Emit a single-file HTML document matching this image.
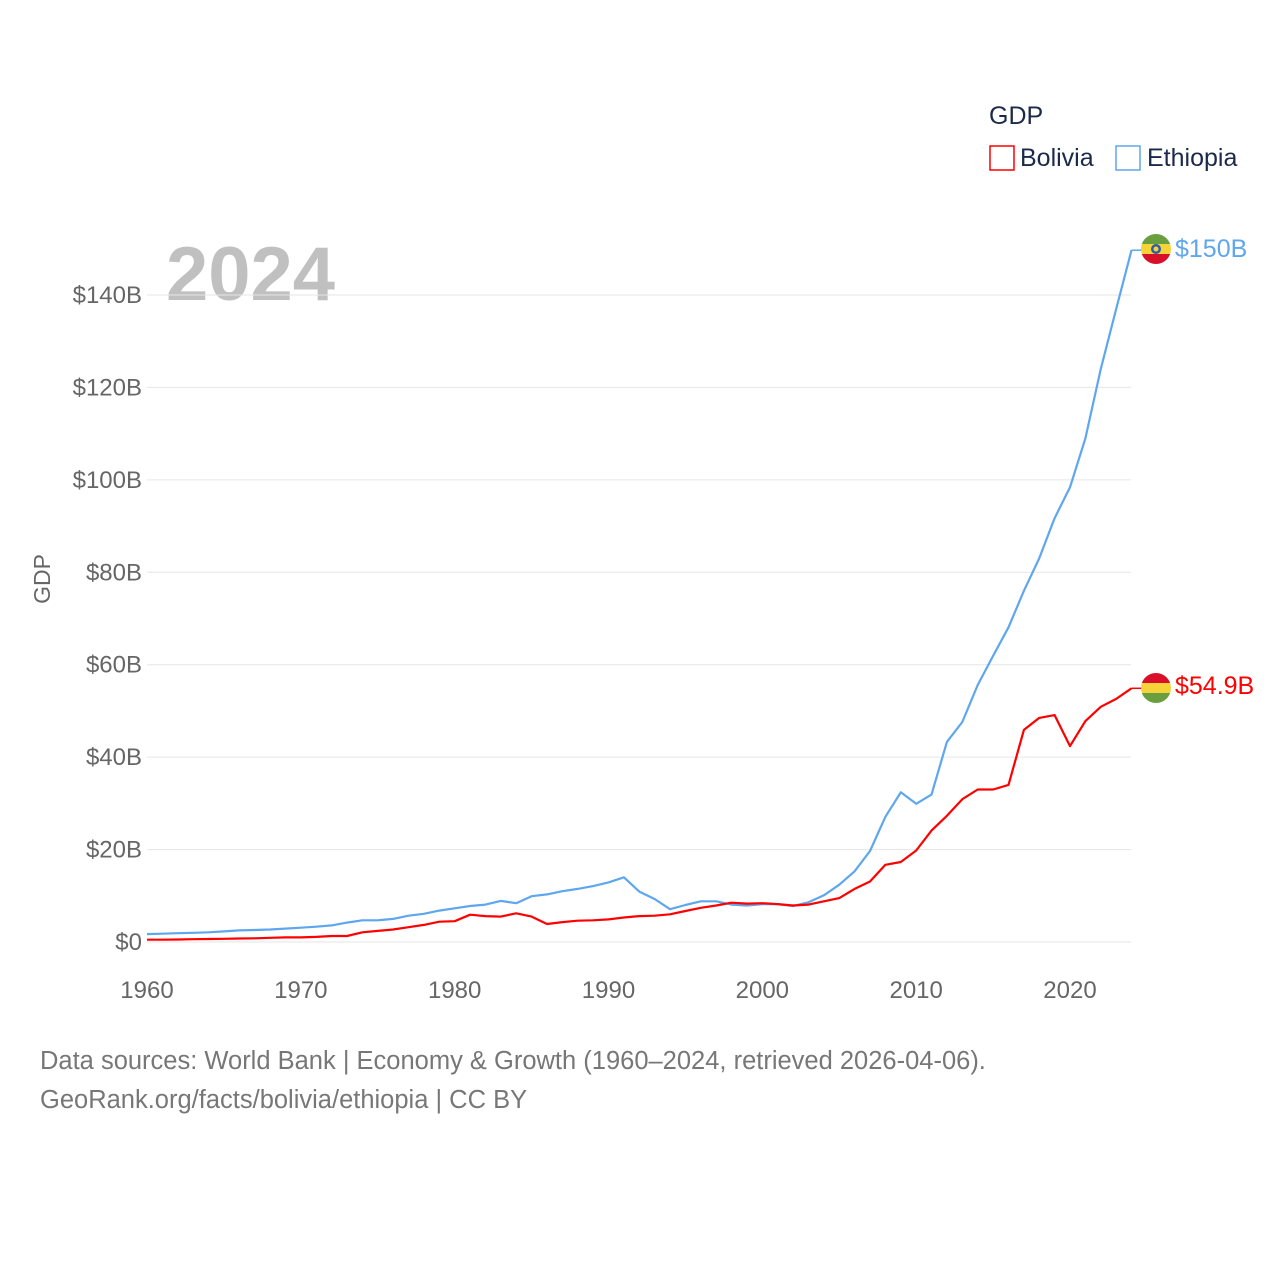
<!DOCTYPE html>
<html><head><meta charset="utf-8"><style>
body{margin:0;background:#fff;font-family:"Liberation Sans",sans-serif}
svg text{font-family:"Liberation Sans",sans-serif}
</style></head><body>
<svg width="1280" height="1280" viewBox="0 0 1280 1280">
<g>
<text x="989" y="124" font-size="25" fill="#1b2a4a">GDP</text>
<rect x="990" y="146" width="24" height="24" fill="none" stroke="#ff0000" stroke-width="1.5"/>
<text x="1020" y="166" font-size="25" fill="#1b2a4a">Bolivia</text>
<rect x="1116" y="146" width="24" height="24" fill="none" stroke="#5ea6ee" stroke-width="1.5"/>
<text x="1147" y="166" font-size="25" fill="#1b2a4a">Ethiopia</text>
</g>
<text x="166" y="300" font-size="76" font-weight="bold" fill="#c0c0c0">2024</text>
<text transform="translate(50,579) rotate(-90)" text-anchor="middle" font-size="23" fill="#666">GDP</text>
<g id="grid"></g><g id="ylab"></g><g id="xlab"></g><g id="lines"></g>
<g>
<clipPath id="c1"><circle cx="1156" cy="249" r="15"/></clipPath>
<g clip-path="url(#c1)"><rect x="1141" y="234" width="30" height="10" fill="#6a9f3f"/><rect x="1141" y="244" width="30" height="10" fill="#f7d33a"/><rect x="1141" y="254" width="30" height="10" fill="#d9102a"/><circle cx="1156" cy="249" r="5" fill="#2a5db0"/><circle cx="1156" cy="249" r="2.5" fill="#f7d33a"/></g></g>
<g>
<clipPath id="c2"><circle cx="1156" cy="688" r="15"/></clipPath>
<g clip-path="url(#c2)"><rect x="1141" y="673" width="30" height="10" fill="#d9102a"/><rect x="1141" y="683" width="30" height="10" fill="#f7d33a"/><rect x="1141" y="693" width="30" height="10" fill="#6a9f3f"/></g></g>
<text x="1175" y="257" font-size="25" fill="#5ea6ee">$150B</text>
<text x="1175" y="694" font-size="25" fill="#ff0000">$54.9B</text>
<text x="40" y="1069" font-size="25.5" fill="#777">Data sources: World Bank | Economy &amp; Growth (1960–2024, retrieved 2026-04-06).</text>
<text x="40" y="1108" font-size="25.5" fill="#777">GeoRank.org/facts/bolivia/ethiopia | CC BY</text>
</svg>
<script>
const years=[];for(let y=1960;y<=2024;y++)years.push(y);
const ethiopia=[1.7,1.8,1.9,2.0,2.1,2.3,2.5,2.6,2.7,2.9,3.1,3.3,3.6,4.2,4.7,4.7,5.0,5.7,6.1,6.8,7.3,7.8,8.1,8.9,8.4,9.9,10.3,11.0,11.5,12.1,12.9,14.0,10.9,9.3,7.1,8.0,8.8,8.8,8.1,7.9,8.2,8.2,7.8,8.6,10.1,12.4,15.3,19.7,27.1,32.4,29.9,31.9,43.3,47.6,55.6,61.9,68.1,76.0,83.0,91.7,98.4,109,124,137,149.7];
const bolivia=[0.5,0.5,0.55,0.6,0.65,0.7,0.75,0.8,0.9,1.0,1.0,1.1,1.3,1.3,2.1,2.4,2.7,3.2,3.7,4.4,4.5,5.9,5.6,5.5,6.2,5.5,3.9,4.3,4.6,4.7,4.9,5.3,5.6,5.7,6.0,6.7,7.4,7.9,8.5,8.3,8.4,8.2,7.9,8.1,8.8,9.5,11.5,13.1,16.7,17.3,19.8,24.1,27.3,30.9,33.0,33.0,34.0,45.9,48.5,49.1,42.4,47.8,50.9,52.6,54.9];
const yTicks=[0,20,40,60,80,100,120,140];
const yTickLabels=["$0","$20B","$40B","$60B","$80B","$100B","$120B","$140B"];
const xTicks=[1960,1970,1980,1990,2000,2010,2020];
const X=y=>147+(y-1960)*(1070-147)/60;
const Y=v=>942-v*(942-295)/140;
const NS="http://www.w3.org/2000/svg";
function mk(tag,attrs,parent,txt){const e=document.createElementNS(NS,tag);for(const k in attrs)e.setAttribute(k,attrs[k]);if(txt!==undefined)e.textContent=txt;document.getElementById(parent).appendChild(e);return e;}
yTicks.forEach((t,i)=>{
 const l=mk('line',{x1:147,x2:1131,y1:Y(t),y2:Y(t),stroke:'#e6e6e6','stroke-width':1},'grid');
 
 
 const tx=mk('text',{x:142,y:Y(t)+8,'text-anchor':'end','font-size':24,fill:'#666'},'ylab',yTickLabels[i]);
 
 
});
xTicks.forEach(t=>{
 const tx=mk('text',{x:X(t),y:998,'text-anchor':'middle','font-size':24,fill:'#666'},'xlab',String(t));
 
 
});
function line(vals,color,name){
 const d=vals.map((v,i)=>(i?'L':'M')+X(years[i]).toFixed(1)+','+Y(v).toFixed(1)).join('');
 const p=mk('path',{d:d,fill:'none',stroke:color,'stroke-width':2.2,'stroke-linejoin':'round'},'lines');
 
 
 const last=vals[vals.length-1];
 mk('line',{x1:X(2024),x2:X(2024)+10,y1:Y(last),y2:Y(last),stroke:color,'stroke-width':1.5},'lines');
}
line(ethiopia,'#5ea6ee','ethiopia-line');
line(bolivia,'#ff0000','bolivia-line');
</script>
</body></html>
